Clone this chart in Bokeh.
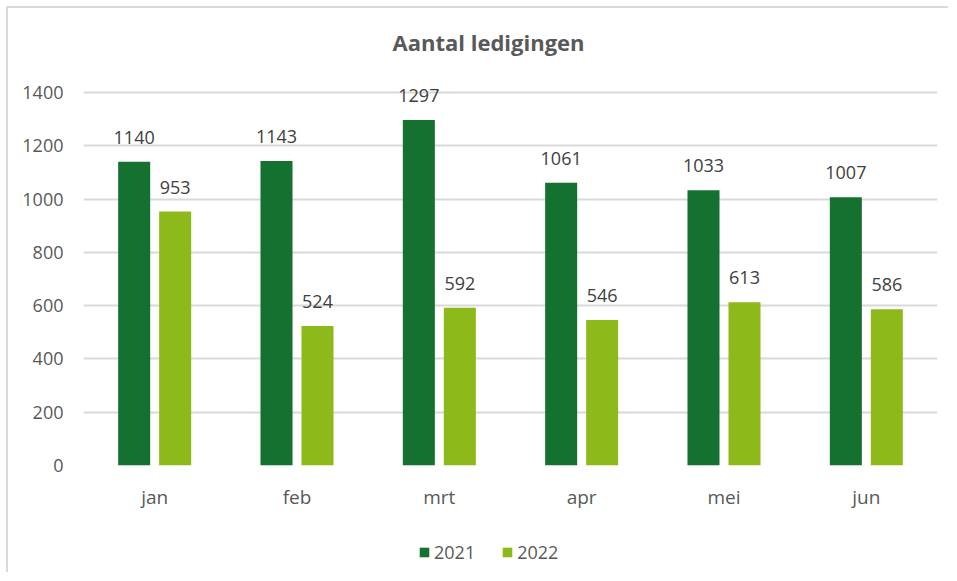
from bokeh.plotting import figure
from bokeh.models import (ColumnDataSource, FactorRange, Range1d, FixedTicker, LabelSet,
                          Legend, LegendItem, Title)
from bokeh.layouts import column
from bokeh.transform import dodge
from bokeh.core.properties import value
from bokeh.embed import file_html
from bokeh.resources import INLINE

months = ["jan", "feb", "mrt", "apr", "mei", "jun"]
values_2021 = [1140, 1143, 1297, 1061, 1033, 1007]
values_2022 = [953, 524, 592, 546, 613, 586]
series_names = ["2021", "2022"]
y_ticks = [0, 200, 400, 600, 800, 1000, 1200, 1400]

C2021 = "#147130"
C2022 = "#8DB91A"
FONT = "Open Sans"

source = ColumnDataSource(dict(
    month=months,
    v2021=values_2021,
    v2022=values_2022,
    t2021=[str(v) for v in values_2021],
    t2022=[str(v) for v in values_2022],
))

# frame extends a little above the 1400 gridline so the value labels are not clipped
Y_TOP = 1400 + 22 * 1400 / 373

p = figure(width=940, height=510, x_range=FactorRange(*months), y_range=Range1d(0, Y_TOP),
           output_backend="svg", toolbar_location=None,
           min_border_left=75, min_border_right=11, min_border_top=62, min_border_bottom=53)
p.outline_line_color = None
p.background_fill_color = "white"
p.border_fill_color = "white"

r1 = p.vbar(x=dodge("month", -0.144, range=p.x_range), top="v2021", width=0.225,
            source=source, fill_color=C2021, line_color=None)
r2 = p.vbar(x=dodge("month", 0.144, range=p.x_range), top="v2022", width=0.225,
            source=source, fill_color=C2022, line_color=None)

for col, off in (("2021", -0.144), ("2022", 0.144)):
    lbl = LabelSet(x=dodge("month", off, range=p.x_range), y="v" + col, text="t" + col,
                   source=source, text_align="center", text_baseline="bottom", y_offset=18,
                   text_font=value(FONT), text_font_size=value("18px"), text_color="#404040")
    p.add_layout(lbl)

# axes
p.yaxis.ticker = FixedTicker(ticks=y_ticks)
p.yaxis.axis_line_color = None
p.yaxis.major_tick_line_color = None
p.yaxis.minor_tick_line_color = None
p.yaxis.major_label_standoff = 14
p.yaxis.major_label_text_font = FONT
p.yaxis.major_label_text_font_size = "18px"
p.yaxis.major_label_text_color = "#595959"

p.xaxis.axis_line_color = None
p.xaxis.major_tick_line_color = None
p.xaxis.minor_tick_line_color = None
p.xaxis.major_label_standoff = 12
p.xaxis.major_label_text_font = FONT
p.xaxis.major_label_text_font_size = "19px"
p.xaxis.major_label_text_color = "#595959"

p.xgrid.grid_line_color = None
p.ygrid.grid_line_color = "#d9d9d9"
p.ygrid.grid_line_width = 2

title = Title(text="Aantal ledigingen", align="left", offset=309, standoff=27,
              text_font=FONT, text_font_size="22px", text_font_style="bold",
              text_color="#595959")
p.add_layout(title, "above")

# legend strip
lg = figure(width=940, height=54, output_backend="svg", toolbar_location=None,
            min_border=0, x_range=Range1d(0, 1), y_range=Range1d(0, 1))
lg.xaxis.visible = False
lg.yaxis.visible = False
lg.grid.grid_line_color = None
lg.outline_line_color = None
lg.border_fill_color = "white"
lg.background_fill_color = "white"
l1 = lg.vbar(x=[0.5], top=[0], bottom=[0], width=0.0, fill_color=C2021, line_color=None)
l2 = lg.vbar(x=[0.5], top=[0], bottom=[0], width=0.0, fill_color=C2022, line_color=None)
legend = Legend(items=[LegendItem(label=series_names[0], renderers=[l1]),
                       LegendItem(label=series_names[1], renderers=[l2])],
                location=(335, 8), orientation="horizontal",
                glyph_width=12, glyph_height=12, label_standoff=4, spacing=26,
                padding=0, margin=0, border_line_color=None, background_fill_alpha=0,
                label_text_font=FONT, label_text_font_size="18px", label_text_color="#595959",
                label_height=12)
lg.add_layout(legend, "center")

layout = column(p, lg, spacing=0)
layout.styles = {"margin-left": "6px", "margin-top": "6px",
                 "border-top": "2px solid #d9d9d9", "border-left": "2px solid #d9d9d9"}

open("out.html", "w").write(file_html(layout, INLINE))
